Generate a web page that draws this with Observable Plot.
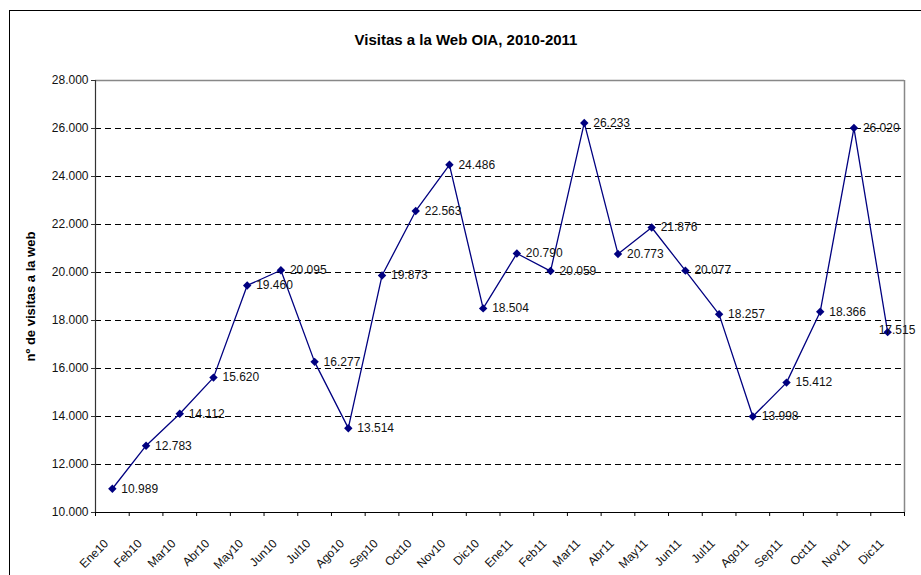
<!DOCTYPE html>
<html><head><meta charset="utf-8">
<script src="https://cdn.jsdelivr.net/npm/d3@7"></script>
<script src="https://cdn.jsdelivr.net/npm/@observablehq/plot@0.6"></script>
<style>
body{margin:0;background:#fff;font-family:"Liberation Sans",Arial,sans-serif;}
#wrap{position:relative;width:921px;height:575px;overflow:hidden;background:#fff;}
#frame{position:absolute;left:9px;top:10px;width:1000px;height:1000px;border-left:1.5px solid #000;border-top:1.5px solid #000;}
#chart{position:absolute;left:0;top:0;}
#title{position:absolute;left:0;width:932px;top:31px;text-align:center;font-weight:bold;font-size:15px;color:#000;}
</style></head><body>
<div id="wrap"><div id="frame"></div><div id="chart"></div><div id="title"></div></div>
<script>
const title = "Visitas a la Web OIA, 2010-2011";
const yLabel = "nº de visitas a la web";
const months = ["Ene10","Feb10","Mar10","Abr10","May10","Jun10","Jul10","Ago10","Sep10","Oct10","Nov10","Dic10",
                "Ene11","Feb11","Mar11","Abr11","May11","Jun11","Jul11","Ago11","Sep11","Oct11","Nov11","Dic11"];
const visits = [10989,12783,14112,15620,19460,20095,16277,13514,19873,22563,24486,18504,
                20790,20059,26233,20773,21876,20077,18257,13998,15412,18366,26020,17515];
const yTicks = [10000,12000,14000,16000,18000,20000,22000,24000,26000,28000];

document.getElementById("title").textContent = title;
const fmt = d3.formatLocale({decimal:",",thousands:".",grouping:[3],currency:["",""]}).format(",.0f");
const data = months.map((m,i)=>({m, x:i+0.5, v:visits[i]}));
const n = months.length;

const plot = Plot.plot({
  width:921, height:575,
  marginLeft:95, marginRight:17, marginTop:80, marginBottom:63,
  style:{fontFamily:"'Liberation Sans', Arial, sans-serif", fontSize:"12px", background:"transparent", color:"#000", overflow:"visible"},
  x:{domain:[0,n]},
  y:{domain:[yTicks[0], yTicks[yTicks.length-1]]},
  marks:[
    Plot.gridY(yTicks.slice(1,-1), {stroke:"#000", strokeOpacity:1, strokeDasharray:"6,4", strokeWidth:1}),
    Plot.ruleY([yTicks[yTicks.length-1]], {stroke:"#888", strokeWidth:1.5}),
    Plot.ruleX([n], {stroke:"#888", strokeWidth:1.5}),
    Plot.axisY({ticks:yTicks, tickFormat:fmt, tickSize:4, tickPadding:3, label:null, stroke:"#333", fill:"#111"}),
    Plot.ruleX([0], {stroke:"#333", strokeWidth:1.2}),
    Plot.axisX({ticks:d3.range(n+1), tickFormat:()=>"", tickSize:4, label:null, stroke:"#000"}),
    Plot.ruleY([yTicks[0]], {stroke:"#000", strokeWidth:1.2}),
    Plot.text(data, {x:"x", y:yTicks[0], text:"m", rotate:-45, textAnchor:"end", lineAnchor:"middle", dy:29, dx:-6, fill:"#111", fontSize:12}),
    Plot.text([yLabel], {frameAnchor:"left", textAnchor:"middle", dx:-65, rotate:-90, fontWeight:"bold", fontSize:13, fill:"#000"}),
    Plot.line(data, {x:"x", y:"v", stroke:"#000080", strokeWidth:1.3}),
    Plot.dot(data, {x:"x", y:"v", symbol:"diamond2", fill:"#000080", stroke:"none", r:3.8}),
    Plot.text(data.slice(0,-1), {x:"x", y:"v", text:d=>fmt(d.v), dx:9, textAnchor:"start", fill:"#111", fontSize:12}),
    Plot.text(data.slice(-1), {x:"x", y:"v", text:d=>fmt(d.v), dx:-9, dy:-2, textAnchor:"start", fill:"#111", fontSize:12})
  ]
});
document.getElementById("chart").appendChild(plot);
</script>
</body></html>
